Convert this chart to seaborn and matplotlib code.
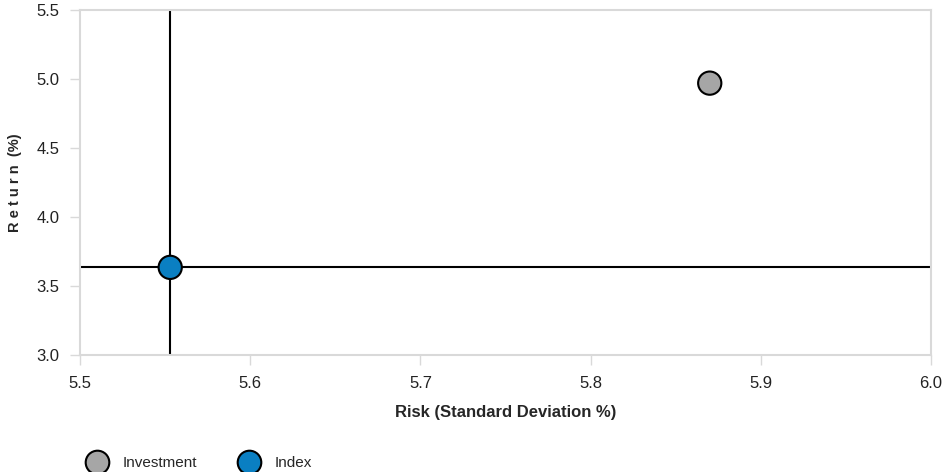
import matplotlib
matplotlib.use("Agg")
import matplotlib.pyplot as plt
import seaborn as sns
import pandas as pd

# values
names = ["Investment", "Index"]
risk = [5.870, 5.553]
ret = [4.97, 3.635]
colors = ["#a6a6a6", "#0a7fc2"]

x_ticks = [5.5, 5.6, 5.7, 5.8, 5.9, 6.0]
y_ticks = [3.0, 3.5, 4.0, 4.5, 5.0, 5.5]

df = pd.DataFrame({"Name": names, "Risk": risk, "Return": ret})

sns.set_style("white")
plt.rcParams["font.family"] = ["Liberation Sans", "DejaVu Sans"]

fig = plt.figure(figsize=(9.45, 4.72), dpi=100)
ax = fig.add_axes([80 / 945, 1 - 355 / 472, 851 / 945, 345 / 472])

# crosshair through the index point
idx = df[df["Name"] == "Index"].iloc[0]
ax.axvline(idx["Risk"], color="black", lw=1.5, zorder=1)
ax.axhline(idx["Return"], color="black", lw=1.5, zorder=1)

sns.scatterplot(data=df, x="Risk", y="Return", hue="Name", palette=colors,
                s=280, edgecolor="black", linewidth=1.5, ax=ax, zorder=3,
                legend=False)

ax.set_xlim(5.5, 6.0)
ax.set_ylim(3.0, 5.5)
ax.set_xticks(x_ticks)
ax.set_yticks(y_ticks)
ax.set_xticklabels([f"{v:.1f}" for v in x_ticks], fontsize=12, color="#222222")
ax.set_yticklabels([f"{v:.1f}" for v in y_ticks], fontsize=12, color="#222222")
ax.tick_params(axis="both", bottom=True, left=True, length=7, width=1,
               color="#d9d9d9")
ax.tick_params(axis="x", pad=8)
ax.tick_params(axis="y", pad=8)

for s in ax.spines.values():
    s.set_color("#d9d9d9")
    s.set_linewidth(1.5)

ax.set_xlabel("Risk (Standard Deviation %)", fontsize=12, fontweight="bold")
ax.set_ylabel("R e t u r n  (%)", fontsize=10.5, fontweight="bold")
ax.yaxis.set_label_coords((22 - 80) / 851, 0.5)
ax.xaxis.set_label_coords(0.5, -50 / 345)

# legend at the bottom
handles = [plt.Line2D([], [], marker="o", ls="", markersize=17,
                      markerfacecolor=c, markeredgecolor="black",
                      markeredgewidth=1.5) for c in colors]
fig.legend(handles, names, loc="lower left", bbox_to_anchor=(68 / 945, -0.025),
           ncol=2, frameon=False, fontsize=11, handletextpad=0.65,
           columnspacing=2.45)

fig.savefig("out.png", dpi=100)
